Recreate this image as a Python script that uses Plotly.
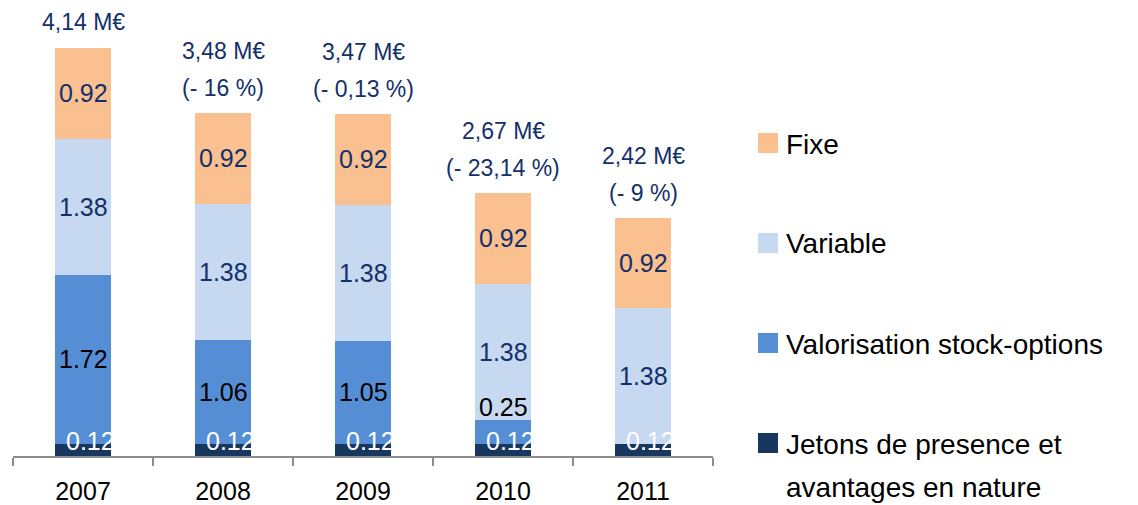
import plotly.graph_objects as go

years = ["2007", "2008", "2009", "2010", "2011"]
jetons = [0.12, 0.12, 0.12, 0.12, 0.12]
stock = [1.72, 1.06, 1.05, 0.25, 0.0]
variable = [1.38, 1.38, 1.38, 1.38, 1.38]
fixe = [0.92, 0.92, 0.92, 0.92, 0.92]
totals = [4.14, 3.48, 3.47, 2.67, 2.42]
total_line1 = ["4,14 M€", "3,48 M€", "3,47 M€", "2,67 M€", "2,42 M€"]
total_line2 = ["", "(- 16 %)", "(- 0,13 %)", "(- 23,14 %)", "(- 9 %)"]
legend_labels = ["Fixe", "Variable", "Valorisation stock-options",
                 "Jetons de presence et<br>avantages en nature"]

FONT = "Liberation Sans Narrow, Arial Narrow, Liberation Sans, Arial, sans-serif"
NAVY = "#14306A"
C_JET = "#17375E"
C_STOCK = "#558ED5"
C_VAR = "#C6D9F0"
C_FIXE = "#FAC090"
LBL = 25

fig = go.Figure()
series = [("Jetons", jetons, C_JET), ("Stock", stock, C_STOCK),
          ("Variable", variable, C_VAR), ("Fixe", fixe, C_FIXE)]
for name, vals, col in series:
    fig.add_trace(go.Bar(x=years, y=vals, name=name, marker_color=col,
                         marker_line_width=0, showlegend=False, hoverinfo="skip"))

ann = []
for i, yr in enumerate(years):
    b0 = 0
    ann.append(dict(x=i, y=b0 + jetons[i] / 2, text=f"{jetons[i]:.2f}", showarrow=False,
                    font=dict(color="white", size=LBL, family=FONT), xshift=7, yshift=9))
    b0 += jetons[i]
    if stock[i] > 0:
        if stock[i] >= 0.5:
            ann.append(dict(x=i, y=b0 + stock[i] / 2, text=f"{stock[i]:.2f}", showarrow=False,
                            font=dict(color="black", size=LBL, family=FONT)))
        else:
            ann.append(dict(x=i, y=b0 + stock[i], text=f"{stock[i]:.2f}", showarrow=False,
                            yanchor="bottom", yshift=-3,
                            font=dict(color="black", size=LBL, family=FONT)))
    b0 += stock[i]
    ann.append(dict(x=i, y=b0 + variable[i] / 2, text=f"{variable[i]:.2f}", showarrow=False,
                    font=dict(color=NAVY, size=LBL, family=FONT)))
    b0 += variable[i]
    ann.append(dict(x=i, y=b0 + fixe[i] / 2, text=f"{fixe[i]:.2f}", showarrow=False,
                    font=dict(color=NAVY, size=LBL, family=FONT)))
    if total_line2[i]:
        ann.append(dict(x=i, y=totals[i], text=total_line1[i], showarrow=False,
                        yanchor="middle", yshift=62,
                        font=dict(color=NAVY, size=23, family=FONT)))
        ann.append(dict(x=i, y=totals[i], text=total_line2[i], showarrow=False,
                        yanchor="middle", yshift=25,
                        font=dict(color=NAVY, size=23, family=FONT)))
    else:
        ann.append(dict(x=i, y=totals[i], text=total_line1[i], showarrow=False,
                        yanchor="middle", yshift=26,
                        font=dict(color=NAVY, size=23, family=FONT)))

# manual legend
leg_colors = [C_FIXE, C_VAR, C_STOCK, C_JET]
leg_y = [143, 243, 343, 443]
shapes = []
for lab, col, yc in zip(legend_labels, leg_colors, leg_y):
    shapes.append(dict(type="rect", xref="paper", yref="paper",
                       x0=(758 - 13) / 700, x1=(778 - 13) / 700,
                       y0=(456 - (yc + 10)) / 446, y1=(456 - (yc - 10)) / 446,
                       fillcolor=col, line_width=0))
    for k, line in enumerate(lab.split("<br>")):
        ann.append(dict(xref="paper", yref="paper", x=(784 - 13) / 700,
                        y=(456 - (yc + 1 + 43 * k)) / 446, xanchor="left", yanchor="middle",
                        text=line, showarrow=False, align="left",
                        font=dict(color="black", size=28, family=FONT)))

fig.update_layout(
    barmode="stack", bargap=0.6,
    width=1130, height=497,
    margin=dict(l=5, r=425, t=2, b=49),
    plot_bgcolor="white", paper_bgcolor="white",
    annotations=ann, shapes=shapes,
    xaxis=dict(type="category", showline=True, linecolor="#8C8C8C", linewidth=2,
               ticks="outside", tickson="boundaries", ticklen=8, tickcolor="#8C8C8C",
               tickwidth=2, tickangle=0, range=[-0.5, 4.5], ticklabelstandoff=12,
               automargin=False,
               tickfont=dict(size=25, family=FONT, color="black"), showgrid=False),
    yaxis=dict(range=[0, 4.526], visible=False, showgrid=False),
)
fig.write_html("out.html")
